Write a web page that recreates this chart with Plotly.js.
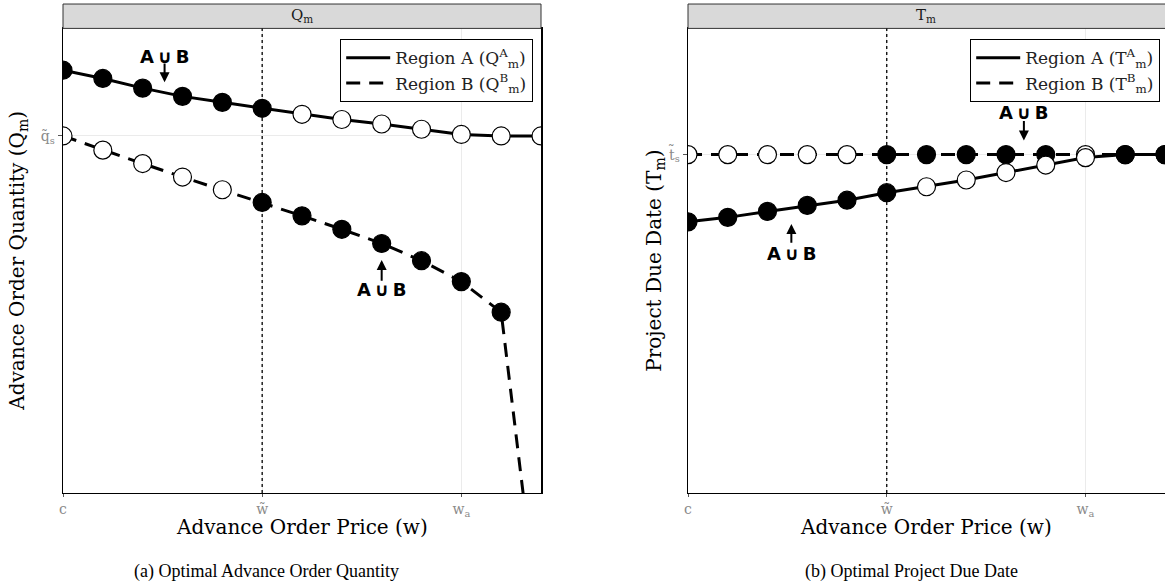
<!DOCTYPE html>
<html><head><meta charset="utf-8">
<script src="https://cdn.plot.ly/plotly-3.0.1.min.js"></script>
<style>body{margin:0;background:#fff}</style>
</head><body>
<div id="chart" style="width:1165px;height:583px"></div>
<script>
// ---- data ----
const prices = [0, 0.2, 0.4, 0.6, 0.8, 1.0, 1.2, 1.4, 1.6, 1.8, 2.0, 2.2, 2.4];
const xTickVals = [0, 1, 2];
const xTickText = ['c', 'w\u0303', 'w<sub>a</sub>'];
const qTickVal = [4.78];
const qTickText = ['q\u0303<sub>s</sub>'];
const tTickVal = [4.53];
const tTickText = ['t\u0303<sub>s</sub>'];

const qRegionA = [5.66, 5.55, 5.42, 5.31, 5.23, 5.15, 5.07, 5.00, 4.94, 4.87, 4.80, 4.78, 4.78];
const qRegionB = [4.78, 4.59, 4.41, 4.23, 4.06, 3.89, 3.71, 3.53, 3.34, 3.11, 2.83, 2.42, -1.98];
const qFillA = [1, 1, 1, 1, 1, 1, 0, 0, 0, 0, 0, 0, 0];
const qFillB = [0, 0, 0, 0, 0, 1, 1, 1, 1, 1, 1, 1, 1];

const tRegionA = [3.63, 3.69, 3.77, 3.85, 3.92, 4.02, 4.10, 4.19, 4.29, 4.39, 4.49, 4.53, 4.53];
const tRegionB = [4.53, 4.53, 4.53, 4.53, 4.53, 4.53, 4.53, 4.53, 4.53, 4.53, 4.53, 4.53, 4.53];
const tFillA = [1, 1, 1, 1, 1, 1, 0, 0, 0, 0, 0, 1, 1];
const tFillB = [0, 0, 0, 0, 0, 1, 1, 1, 1, 1, 0, 1, 1];

// ---- styles ----
const serif = 'DejaVu Serif';
const DASH = '14px,9px';
const MS = 18;
const fillColors = f => f.map(v => v ? 'black' : 'white');

function lineTrace(x, y, xa, ya, dash, name, legend) {
  return {x: x, y: y, xaxis: xa, yaxis: ya, type: 'scatter', mode: 'lines',
    line: {color: 'black', width: 3, dash: dash, shape: 'linear'},
    name: name, legend: legend, hoverinfo: 'skip'};
}
function markerTrace(x, y, xa, ya, fill) {
  return {x: x, y: y, xaxis: xa, yaxis: ya, type: 'scatter', mode: 'markers',
    marker: {size: MS, color: fillColors(fill), line: {color: 'black', width: 1.2}},
    showlegend: false, hoverinfo: 'skip'};
}

const data = [
  lineTrace(prices, qRegionA, 'x', 'y', 'solid', 'Region A (Q<sup>A</sup><sub>m</sub>)', 'legend'),
  lineTrace(prices, qRegionB, 'x', 'y', DASH, 'Region B (Q<sup>B</sup><sub>m</sub>)', 'legend'),
  markerTrace(prices, qRegionA, 'x', 'y', qFillA),
  markerTrace(prices, qRegionB, 'x', 'y', qFillB),
  lineTrace(prices, tRegionA, 'x2', 'y2', 'solid', 'Region A (T<sup>A</sup><sub>m</sub>)', 'legend2'),
  lineTrace(prices, tRegionB, 'x2', 'y2', DASH, 'Region B (T<sup>B</sup><sub>m</sub>)', 'legend2'),
  markerTrace(prices, tRegionB, 'x2', 'y2', tFillB),
  markerTrace(prices, tRegionA, 'x2', 'y2', tFillA)
];

const yBot = 0.1544, yTop = 0.9513, stripTop = 0.9931;
const tickFont = {family: serif, size: 14, color: '#8a8a8a'};
function xAxis(domain, anchor) {
  return {domain: domain, anchor: anchor, range: [0, 2.4], tickvals: xTickVals, ticktext: xTickText,
    showgrid: true, gridcolor: '#ebebeb', gridwidth: 1, zeroline: false,
    showline: true, linecolor: 'black', linewidth: 1.5, mirror: true,
    ticks: 'outside', ticklen: 3, tickcolor: '#555', tickfont: tickFont, fixedrange: true};
}
function yAxis(anchor, tv, tt) {
  return {domain: [yBot, yTop], anchor: anchor, range: [0, 6.22], tickvals: tv, ticktext: tt,
    showgrid: true, gridcolor: '#ebebeb', gridwidth: 1, zeroline: false,
    showline: true, linecolor: 'black', linewidth: 1.5, mirror: true,
    ticks: 'outside', ticklen: 4, tickcolor: '#555', tickfont: tickFont, fixedrange: true};
}
const d1 = [63 / 1165, 541 / 1165];
const d2 = [688 / 1165, 1];

function arrowAnn(xref, yref, x, yHead, yTail) {
  return {xref: xref, yref: yref, axref: xref, ayref: yref, x: x, y: yHead, ax: x, ay: yTail,
    text: '', showarrow: true, arrowhead: 2, arrowsize: 1, arrowwidth: 2, arrowcolor: 'black'};
}
function unionText(xref, yref, x, y) {
  return {xref: xref, yref: yref, x: x, y: y, xanchor: 'center', yanchor: 'middle',
    text: '<b>A\u2009\u222A\u2009B</b>', showarrow: false,
    font: {family: 'DejaVu Sans', size: 18, color: 'black'}};
}
function paperText(x, y, text, font, angle) {
  return {xref: 'paper', yref: 'paper', x: x, y: y, xanchor: 'center', yanchor: 'middle',
    text: text, showarrow: false, font: font, textangle: angle || 0};
}
const titleFont = {family: serif, size: 20, color: 'black'};
const capFont = {family: 'Liberation Serif', size: 18, color: 'black'};
const stripFont = {family: serif, size: 15, color: '#1a1a1a'};
const c1 = (d1[0] + d1[1]) / 2, c2 = (d2[0] + d2[1]) / 2, yMid = (yBot + yTop) / 2;
const annotations = [
  paperText(c1, 0.9726, 'Q<sub>m</sub>', stripFont),
  paperText(c2, 0.9726, 'T<sub>m</sub>', stripFont),
  paperText(c1, 0.096, 'Advance Order Price (w)', titleFont),
  paperText(c2, 0.096, 'Advance Order Price (w)', titleFont),
  paperText(18 / 1165, yMid, 'Advance Order Quantity (Q<sub>m</sub>)', titleFont, -90),
  paperText(655 / 1165, yMid, 'Project Due Date (T<sub>m</sub>)', titleFont, -90),
  paperText(266 / 1165, 0.019, '(a) Optimal Advance Order Quantity', capFont),
  paperText(911 / 1165, 0.019, '(b) Optimal Project Due Date', capFont),
  unionText('x', 'y', 0.51, 5.85), arrowAnn('x', 'y', 0.51, 5.50, 5.77),
  unionText('x', 'y', 1.60, 2.72), arrowAnn('x', 'y', 1.60, 3.12, 2.82),
  unionText('x2', 'y2', 1.69, 5.10), arrowAnn('x2', 'y2', 1.69, 4.72, 5.00),
  unionText('x2', 'y2', 0.52, 3.20), arrowAnn('x2', 'y2', 0.52, 3.60, 3.33)
];

const shapes = [
  {type: 'rect', xref: 'paper', yref: 'paper', x0: d1[0], x1: d1[1], y0: yTop, y1: stripTop, fillcolor: '#d9d9d9', line: {color: '#333', width: 1}},
  {type: 'rect', xref: 'paper', yref: 'paper', x0: d2[0], x1: 1.002, y0: yTop, y1: stripTop, fillcolor: '#d9d9d9', line: {color: '#333', width: 1}},
  {type: 'line', xref: 'x', yref: 'paper', x0: 1, x1: 1, y0: yBot, y1: yTop, line: {color: 'black', width: 1.3, dash: 'dot'}},
  {type: 'line', xref: 'x2', yref: 'paper', x0: 1, x1: 1, y0: yBot, y1: yTop, line: {color: 'black', width: 1.3, dash: 'dot'}}
];

const legendBase = {yanchor: 'top', y: 0.933, xanchor: 'right', bgcolor: 'white', bordercolor: 'black', borderwidth: 1.2,
  font: {family: serif, size: 17, color: '#222'}, tracegroupgap: 0, itemwidth: 44};

const layout = {
  width: 1165, height: 583, margin: {l: 0, r: 0, t: 0, b: 0},
  paper_bgcolor: 'white', plot_bgcolor: 'white', showlegend: true,
  xaxis: xAxis(d1, 'y'), yaxis: yAxis('x', qTickVal, qTickText),
  xaxis2: xAxis(d2, 'y2'), yaxis2: yAxis('x2', tTickVal, tTickText),
  legend: Object.assign({}, legendBase, {x: 533 / 1165}),
  legend2: Object.assign({}, legendBase, {x: 1160 / 1165}),
  annotations: annotations, shapes: shapes
};

Plotly.newPlot('chart', data, layout, {displayModeBar: false, staticPlot: true});
</script>
</body></html>
